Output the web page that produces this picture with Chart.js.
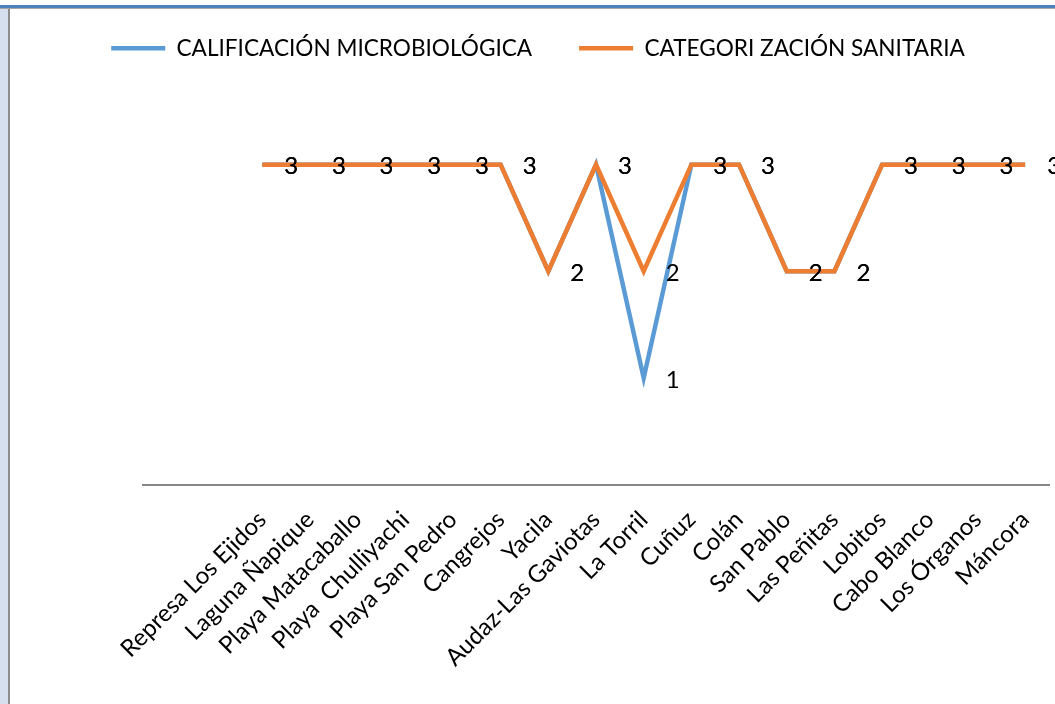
<!DOCTYPE html>
<html>
<head>
<meta charset="utf-8">
<script src="https://cdn.jsdelivr.net/npm/chart.js@4.4.1/dist/chart.umd.min.js"></script>
<style>
  html, body { margin: 0; padding: 0; background: #ffffff; width: 1055px; height: 704px; overflow: hidden; }
  #topBlue { position: absolute; left: 0; top: 5px; width: 1055px; height: 3px; background: #4F81BD; }
  #topGray { position: absolute; left: 0; top: 8px; width: 1055px; height: 1px; background: #A6A6A6; }
  #leftStrip { position: absolute; left: 0; top: 9px; width: 8px; height: 695px; background: #D5DFEE; }
  #leftGray { position: absolute; left: 8px; top: 9px; width: 2px; height: 695px; background: #8C8C8C; }
  #wrap { position: absolute; left: 0; top: 0; width: 1055px; height: 704px; }
</style>
</head>
<body>
<div id="topBlue"></div>
<div id="topGray"></div>
<div id="leftStrip"></div>
<div id="leftGray"></div>
<div id="wrap"><canvas id="c" width="1055" height="704"></canvas></div>
<script>
const categories = ['', '', 'Represa Los Ejidos', 'Laguna Ñapique', 'Playa Matacaballo', 'Playa  Chulliyachi',
  'Playa San Pedro', 'Cangrejos', 'Yacila', 'Audaz-Las Gaviotas', 'La Torril', 'Cuñuz', 'Colán',
  'San Pablo', 'Las Peñitas', 'Lobitos', 'Cabo Blanco', 'Los Órganos', 'Máncora'];
const calificacionMicrobiologica = [null, null, 3, 3, 3, 3, 3, 3, 2, 3, 1, 3, 3, 2, 2, 3, 3, 3, 3];
const categorizacionSanitaria = [null, null, 3, 3, 3, 3, 3, 3, 2, 3, 2, 3, 3, 2, 2, 3, 3, 3, 3];
const seriesNames = ['CALIFICACIÓN MICROBIOLÓGICA', 'CATEGORI ZACIÓN SANITARIA'];

const FONT = 'Lato, "Open Sans", sans-serif';

const dataLabels = {
  id: 'dataLabels',
  afterDatasetsDraw(chart) {
    const ctx = chart.ctx;
    ctx.save();
    ctx.font = '24px ' + FONT;
    ctx.fillStyle = '#000000';
    ctx.textAlign = 'left';
    ctx.textBaseline = 'middle';
    chart.data.datasets.forEach((ds, di) => {
      const meta = chart.getDatasetMeta(di);
      meta.data.forEach((pt, i) => {
        const v = ds.data[i];
        if (v === null || v === undefined) return;
        ctx.fillText(String(v), pt.x + 22, pt.y + 2);
      });
    });
    ctx.restore();
  }
};

new Chart(document.getElementById('c'), {
  type: 'line',
  data: {
    labels: categories,
    datasets: [
      {
        label: seriesNames[1],
        data: categorizacionSanitaria,
        borderColor: '#ED7D31',
        backgroundColor: '#ED7D31',
        borderWidth: 4.5,
        pointRadius: 0,
        pointHoverRadius: 0,
        tension: 0,
        fill: false
      },
      {
        label: seriesNames[0],
        data: calificacionMicrobiologica,
        borderColor: '#5B9BD5',
        backgroundColor: '#5B9BD5',
        borderWidth: 4.5,
        pointRadius: 0,
        pointHoverRadius: 0,
        tension: 0,
        fill: false
      }
    ]
  },
  options: {
    responsive: false,
    animation: false,
    events: [],
    layout: { padding: { left: 27, right: 6, top: -10, bottom: 0 } },
    plugins: {
      tooltip: { enabled: false },
      legend: {
        display: true,
        position: 'top',
        reverse: true,
        maxHeight: 68,
        labels: {
          usePointStyle: true,
          pointStyle: 'line',
          pointStyleWidth: 54,
          padding: 47,
          color: '#000000',
          font: { family: FONT, size: 22.6 }
        }
      }
    },
    scales: {
      x: {
        type: 'category',
        offset: true,
        grid: { display: false, drawTicks: false },
        border: { display: true, color: '#868686', width: 2 },
        ticks: {
          autoSkip: false,
          maxRotation: 45,
          minRotation: 45,
          padding: 21,
          color: '#000000',
          font: { family: FONT, size: 24 }
        },
        afterFit(scale) {
          scale.height = 219.5;
          scale.paddingLeft = 0;
          scale.paddingRight = 0;
        }
      },
      y: {
        min: 0,
        max: 4,
        grid: { display: false },
        border: { display: false },
        ticks: { display: false },
        afterFit(scale) { scale.width = 116; }
      }
    }
  },
  plugins: [dataLabels]
});
</script>
</body>
</html>
